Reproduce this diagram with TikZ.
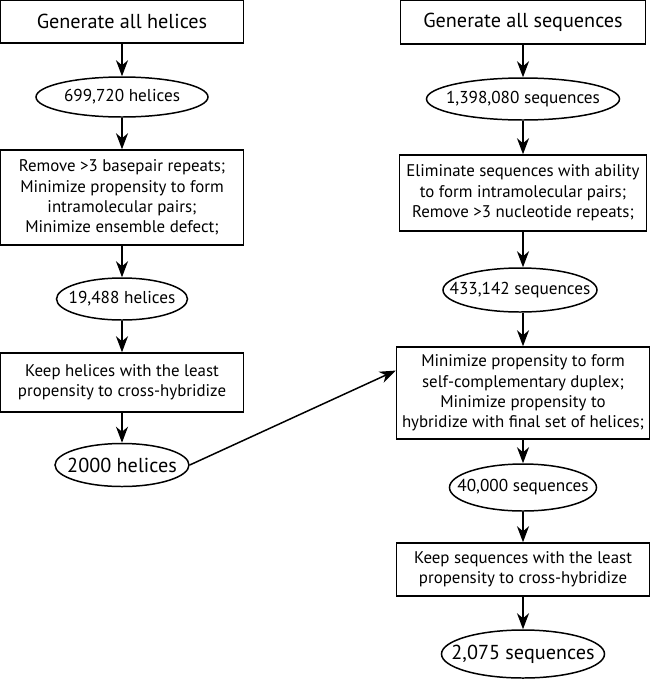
\documentclass[tikz,border=0pt]{standalone}
\usepackage{fontspec}
\setmainfont{PT Sans}
\usetikzlibrary{shapes.geometric,arrows.meta}

\begin{document}
\begin{tikzpicture}
[>={Stealth[length=0.32cm,width=0.24cm,inset=0.1cm]},line width=0.85pt,
stepbox/.style={draw,rectangle,align=center,inner sep=0pt,font=\fontsize{9.6}{11.6}\selectfont},
oval/.style={draw,ellipse,inner xsep=-0.4cm,inner ysep=-0.1cm,font=\fontsize{9.8}{11.6}\selectfont},
bigtext/.style={font=\fontsize{11.5}{13}\selectfont},]
\useasboundingbox (0,0) rectangle (13,-13.62);
% helices
\node (GH) at (2.44,-0.43)[stepbox,bigtext,minimum width=4.86cm,minimum height=0.86cm]{Generate all helices};
\node (H1) at (2.44,-1.94)[oval,minimum width=3.44cm,minimum height=0.80cm]{699,720 helices};
\node (RH) at (2.44,-3.95)[stepbox,minimum width=4.86cm,minimum height=1.9cm]{Remove >3 basepair repeats;\\ Minimize propensity to form\\ intramolecular pairs;\\ Minimize ensemble defect;};
\node (H2) at (2.44,-5.98)[oval,minimum width=2.62cm,minimum height=0.84cm]{19,488 helices};
\node (KH) at (2.44,-7.65)[stepbox,minimum width=4.86cm,minimum height=1.18cm]{Keep helices with the least\\ propensity to cross-hybridize};
\node (H3) at (2.44,-9.3)[oval,bigtext,minimum width=2.68cm,minimum height=0.86cm]{2000 helices};
% sequences
\node (GS) at (10.46,-0.44)[stepbox,bigtext,minimum width=4.9cm,minimum height=0.88cm]{Generate all sequences};
\node (S1) at (10.46,-1.98)[oval,minimum width=3.86cm,minimum height=0.84cm]{1,398,080 sequences};
\node (ES) at (10.46,-3.86)[stepbox,minimum width=4.94cm,minimum height=1.52cm]{Eliminate sequences with ability\\ to form intramolecular pairs;\\ Remove >3 nucleotide repeats;};
\node (S2) at (10.4,-5.8)[oval,minimum width=3.08cm,minimum height=0.88cm]{433,142 sequences};
\node (MS) at (10.46,-7.86)[stepbox,minimum width=5.06cm,minimum height=1.84cm]{Minimize propensity to form\\ self-complementary duplex;\\ Minimize propensity to\\ hybridize with final set of helices;};
\node (S3) at (10.46,-9.75)[oval,minimum width=2.94cm,minimum height=0.94cm]{40,000 sequences};
\node (KS) at (10.46,-11.39)[stepbox,minimum width=5.06cm,minimum height=1.06cm]{Keep sequences with the least\\ propensity to cross-hybridize};
\node (S4) at (10.46,-13.08)[oval,bigtext,minimum width=3.26cm,minimum height=0.96cm]{2,075 sequences};

\draw[->] (GH)--(H1);
\draw[->] (H1)--(RH);
\draw[->] (RH)--(H2);
\draw[->] (H2)--(KH);
\draw[->] (KH)--(H3);
\draw[->] (GS)--(S1);
\draw[->] (S1)--(ES);
\draw[->] (ES.south)--(ES.south|-S2.north);
\draw[->] (S2.south-|MS.north)--(MS);
\draw[->] (MS)--(S3);
\draw[->] (S3)--(KS);
\draw[->] (KS)--(S4);
\draw[->] (H3.east)--(MS.170);

\end{tikzpicture}
\end{document}
